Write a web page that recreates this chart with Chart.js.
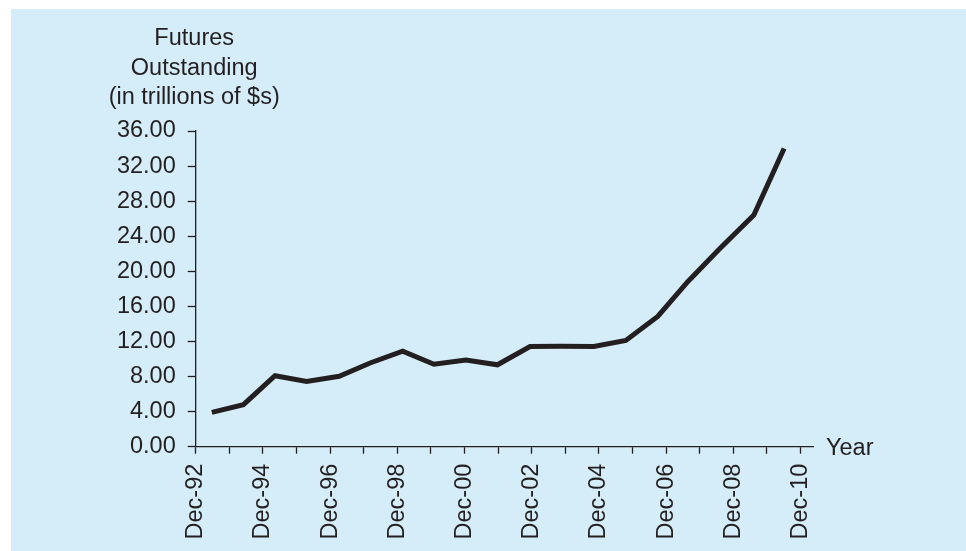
<!DOCTYPE html>
<html>
<head>
<meta charset="utf-8">
<script src="https://cdn.jsdelivr.net/npm/chart.js@4"></script>
<style>
  html, body { margin: 0; padding: 0; background: #ffffff; width: 966px; height: 551px; overflow: hidden; }
  #wrap { position: absolute; left: 11px; top: 9px; width: 955px; height: 542px; background: #d5ecf9; }
  canvas { display: block; }
</style>
</head>
<body>
<div id="wrap"><canvas id="c" width="955" height="542"></canvas></div>
<script>
// Tick labels (one tick per year, label every second year)
const xTickLabels = ['Dec-92','','Dec-94','','Dec-96','','Dec-98','','Dec-00','','Dec-02','','Dec-04','','Dec-06','','Dec-08','','Dec-10'];
const xTickYears = [0,1,2,3,4,5,6,7,8,9,10,11,12,13,14,15,16,17,18];
// Observation positions (years after Dec-92) and values (trillions of $)
const obsYears = [0.48,1.42,2.36,3.30,4.27,5.19,6.16,7.09,8.04,8.98,9.95,10.90,11.85,12.80,13.75,14.65,15.60,16.61,17.51];
const futuresOutstanding = [3.92,4.80,8.10,7.43,8.03,9.55,10.89,9.40,9.88,9.34,11.43,11.45,11.43,12.11,14.85,18.85,22.60,26.42,34.00];
const yTitleLines = ['Futures','Outstanding','(in trillions of $s)'];
const xTitle = 'Year';

const INK = '#231f20';
const FONT = '"Liberation Sans", Arial, sans-serif';
const FSIZE = 23.5;

const titlePlugin = {
  id: 'axisTitles',
  afterDraw(chart) {
    const ctx = chart.ctx;
    const a = chart.chartArea;
    ctx.save();
    ctx.fillStyle = INK;
    ctx.font = FSIZE + 'px ' + FONT;
    ctx.textAlign = 'center';
    ctx.textBaseline = 'alphabetic';
    const n = yTitleLines.length;
    yTitleLines.forEach((t, i) => {
      ctx.fillText(t, a.left - 1.5, a.top - 27 - (n - 1 - i) * 29.3);
    });
    ctx.textAlign = 'left';
    ctx.fillText(xTitle, a.right + 13, a.bottom + 8.5);
    ctx.restore();
  }
};

new Chart(document.getElementById('c'), {
  type: 'line',
  data: {
    datasets: [{
      data: obsYears.map((x, i) => ({ x: x, y: futuresOutstanding[i] })),
      borderColor: INK,
      borderWidth: 5,
      pointRadius: 0,
      tension: 0,
      fill: false
    }]
  },
  options: {
    responsive: false,
    devicePixelRatio: 1,
    animation: false,
    layout: { padding: { top: 122, right: 153, left: 0, bottom: 0 } },
    plugins: { legend: { display: false }, tooltip: { enabled: false } },
    scales: {
      x: {
        type: 'linear',
        min: 0,
        max: 18.37,
        afterBuildTicks(scale) { scale.ticks = xTickYears.map(v => ({ value: v })); },
        afterFit(scale) { scale.height = 104.3; },
        grid: { drawOnChartArea: false, drawTicks: true, tickLength: 7, color: INK, tickWidth: 1.3 },
        border: { display: true, color: INK, width: 1.3 },
        ticks: {
          autoSkip: false,
          maxRotation: 90,
          minRotation: 90,
          padding: 10,
          color: INK,
          font: { family: FONT, size: FSIZE },
          callback(value, index) { return xTickLabels[index]; }
        }
      },
      y: {
        min: 0,
        max: 36,
        afterFit(scale) { scale.width = 184.7; },
        grid: { drawOnChartArea: false, drawTicks: true, tickLength: 8, color: INK, tickWidth: 1.3 },
        border: { display: true, color: INK, width: 1.3 },
        ticks: {
          stepSize: 4,
          padding: 12,
          color: INK,
          font: { family: FONT, size: FSIZE },
          callback(value) { return Number(value).toFixed(2); }
        }
      }
    }
  },
  plugins: [titlePlugin]
});
</script>
</body>
</html>
